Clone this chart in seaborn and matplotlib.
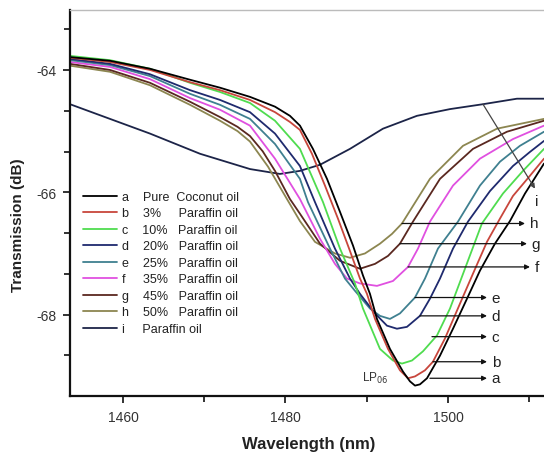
import matplotlib
matplotlib.use("Agg")
import matplotlib.pyplot as plt
import matplotlib.ticker as mticker
import seaborn as sns
import pandas as pd

sns.set_theme(style="ticks")
plt.rcParams["font.family"] = ["Liberation Sans", "DejaVu Sans"]

# ── data (wavelength nm, transmission dB) ───────────────────────────────────
wl_a = [1453.48, 1458.40, 1463.32, 1468.25, 1471.94, 1475.63, 1478.71, 1480.55, 1481.78, 1483.38,
        1485.11, 1486.71, 1488.31, 1489.54, 1490.40, 1491.26, 1492.86, 1494.46, 1495.32, 1495.94,
        1496.55, 1497.42, 1499.02, 1500.62, 1502.34, 1503.94, 1505.78, 1507.63, 1509.48, 1511.82]
t_a = [-63.79, -63.85, -63.98, -64.16, -64.29, -64.44, -64.60, -64.75, -64.91, -65.29,
       -65.78, -66.32, -66.87, -67.36, -67.66, -68.07, -68.56, -68.93, -69.09, -69.16,
       -69.14, -69.04, -68.67, -68.23, -67.74, -67.28, -66.84, -66.47, -66.02, -65.53]

wl_b = [1453.48, 1458.40, 1463.32, 1468.25, 1471.94, 1475.63, 1478.71, 1480.55, 1481.78, 1483.26,
        1484.86, 1486.46, 1487.94, 1489.17, 1490.03, 1491.02, 1492.62, 1494.09, 1495.08, 1495.94,
        1497.17, 1498.15, 1499.63, 1501.48, 1503.08, 1504.80, 1506.40, 1508.00, 1510.09, 1511.82]
t_b = [-63.80, -63.87, -64.00, -64.20, -64.33, -64.49, -64.69, -64.85, -64.98, -65.37,
       -65.89, -66.43, -66.96, -67.41, -67.66, -68.07, -68.56, -68.91, -69.04, -69.01,
       -68.91, -68.77, -68.39, -67.82, -67.33, -66.81, -66.43, -66.06, -65.73, -65.45]

wl_c = [1453.48, 1458.40, 1463.32, 1468.25, 1471.94, 1475.63, 1478.71, 1481.78, 1484.62, 1486.71,
        1488.55, 1489.54, 1491.63, 1493.23, 1494.34, 1495.57, 1496.92, 1498.65, 1500.25, 1502.09,
        1504.18, 1506.77, 1509.23, 1511.82]
t_c = [-63.77, -63.84, -63.98, -64.21, -64.36, -64.54, -64.83, -65.29, -66.16, -66.92,
       -67.49, -67.90, -68.56, -68.75, -68.80, -68.75, -68.60, -68.34, -67.90, -67.25,
       -66.51, -66.02, -65.65, -65.29]

wl_d = [1453.48, 1458.40, 1463.32, 1468.25, 1471.94, 1475.63, 1478.71, 1481.78, 1483.63, 1486.09,
        1487.94, 1489.17, 1491.02, 1492.49, 1493.72, 1494.95, 1496.55, 1497.78, 1499.02, 1500.62,
        1502.46, 1505.17, 1508.00, 1510.09, 1511.82]
t_d = [-63.82, -63.90, -64.07, -64.33, -64.49, -64.69, -65.04, -65.57, -66.16, -66.92,
       -67.41, -67.66, -67.98, -68.18, -68.23, -68.20, -68.02, -67.74, -67.41, -66.92,
       -66.48, -65.98, -65.57, -65.34, -65.16]

wl_e = [1453.48, 1458.40, 1463.32, 1468.25, 1471.94, 1475.63, 1478.71, 1481.78, 1482.77, 1485.48,
        1487.32, 1488.55, 1490.40, 1491.63, 1492.86, 1494.09, 1495.94, 1497.17, 1498.77, 1501.23,
        1503.94, 1506.40, 1508.86, 1511.82]
t_e = [-63.84, -63.92, -64.10, -64.39, -64.57, -64.80, -65.21, -65.78, -66.16, -66.92,
       -67.41, -67.61, -67.90, -68.02, -68.07, -67.98, -67.72, -67.41, -66.92, -66.48,
       -65.89, -65.50, -65.24, -65.01]

wl_f = [1453.48, 1458.40, 1463.32, 1468.25, 1471.94, 1475.63, 1478.71, 1481.78, 1484.25, 1486.09,
        1487.57, 1489.17, 1491.26, 1493.23, 1495.08, 1496.31, 1497.78, 1500.62, 1503.94, 1508.00,
        1511.82]
t_f = [-63.87, -63.95, -64.15, -64.46, -64.65, -64.91, -65.45, -66.11, -66.76, -67.17,
       -67.41, -67.49, -67.53, -67.45, -67.22, -66.92, -66.48, -65.89, -65.45, -65.13,
       -64.91]

wl_g = [1453.48, 1458.40, 1463.32, 1468.25, 1471.94, 1474.10, 1475.63, 1477.20, 1478.71, 1480.55,
        1481.78, 1484.25, 1486.71, 1489.17, 1491.02, 1492.62, 1494.09, 1495.69, 1499.02, 1503.08,
        1507.26, 1511.82]
t_g = [-63.90, -64.00, -64.21, -64.52, -64.77, -64.93, -65.08, -65.33, -65.65, -66.11,
       -66.35, -66.84, -67.12, -67.25, -67.17, -67.04, -66.84, -66.48, -65.78, -65.29,
       -65.01, -64.83]

wl_h = [1453.48, 1458.40, 1463.32, 1468.25, 1471.94, 1474.10, 1475.63, 1477.85, 1480.18, 1481.78,
        1483.63, 1486.09, 1487.94, 1489.78, 1491.63, 1493.11, 1494.34, 1497.78, 1501.85, 1506.03,
        1511.82]
t_h = [-63.93, -64.03, -64.25, -64.57, -64.83, -65.00, -65.17, -65.58, -66.11, -66.47,
       -66.81, -67.00, -67.07, -67.00, -66.84, -66.68, -66.51, -65.78, -65.24, -64.96,
       -64.80]

wl_i = [1453.48, 1458.40, 1463.32, 1469.48, 1475.63, 1479.32, 1481.78, 1484.25, 1487.94, 1492.00,
        1496.18, 1500.25, 1504.31, 1508.49, 1511.82]
t_i = [-64.56, -64.80, -65.04, -65.37, -65.62, -65.70, -65.65, -65.55, -65.29, -64.96,
       -64.75, -64.64, -64.56, -64.47, -64.47]

legend_labels = [
    "a    Pure  Coconut oil",
    "b    3%     Paraffin oil",
    "c    10%   Paraffin oil",
    "d    20%   Paraffin oil",
    "e    25%   Paraffin oil",
    "f     35%   Paraffin oil",
    "g    45%   Paraffin oil",
    "h    50%   Paraffin oil",
    "i     Paraffin oil",
]
colors = ["#000000", "#c8463c", "#4fdc4f", "#1f2a6e", "#3f8090",
          "#e050e0", "#5a2820", "#8c8650", "#1c2448"]
series = [(wl_a, t_a), (wl_b, t_b), (wl_c, t_c), (wl_d, t_d), (wl_e, t_e),
          (wl_f, t_f), (wl_g, t_g), (wl_h, t_h), (wl_i, t_i)]

# arrow labels: curve point -> label on the right
arrow_letters = ["h", "g", "f", "e", "d", "c", "b", "a"]
arrow_x0 = [1494.34, 1494.09, 1495.08, 1495.94, 1496.55, 1498.03, 1498.15, 1497.78]
arrow_y = [-66.51, -66.84, -67.22, -67.72, -68.02, -68.36, -68.77, -69.04]
arrow_x1 = [1509.48, 1509.72, 1510.09, 1504.80, 1504.80, 1504.80, 1504.80, 1504.80]

# ── plot ────────────────────────────────────────────────────────────────────
fig = plt.figure(figsize=(5.44, 4.56), dpi=100)
ax = fig.add_axes([70 / 544, 59 / 456, 474 / 544, 386 / 456])

# draw i..a so the coconut-oil curve ends up on top
for (wl, t), lab, col in list(zip(series, legend_labels, colors))[::-1]:
    df = pd.DataFrame({"wl": wl, "t": t})
    sns.lineplot(data=df, x="wl", y="t", ax=ax, color=col, lw=1.3,
                 estimator=None, sort=False, label=lab)

ax.set_xlim(1453.48, 1511.82)
ax.set_ylim(-69.33, -63.02)
ax.xaxis.set_major_locator(mticker.MultipleLocator(20))
ax.xaxis.set_minor_locator(mticker.MultipleLocator(10))
ax.yaxis.set_major_locator(mticker.MultipleLocator(2))
ax.yaxis.set_minor_locator(mticker.AutoMinorLocator(3))
ax.yaxis.set_major_formatter(mticker.FuncFormatter(lambda v, _: f"{v:.0f}"))

ax.tick_params(which="both", direction="out", color="#222222", width=1.3,
               top=False, right=False, labelsize=10, labelcolor="#333333")
ax.tick_params(which="major", length=5, pad=5)
ax.tick_params(which="minor", length=4)

for side in ["left", "bottom"]:
    ax.spines[side].set_linewidth(1.6)
    ax.spines[side].set_color("#111111")
ax.spines["right"].set_visible(False)
ax.spines["top"].set_color("#bbbbbb")
ax.spines["top"].set_linewidth(1.0)

ax.set_xlabel("Wavelength (nm)", fontsize=12, fontweight="bold", color="#222222")
ax.set_ylabel("Transmission (dB)", fontsize=11, fontweight="bold", color="#222222")
ax.xaxis.set_label_coords((309 - 70) / 474, -(437 - 397) / 386)
ax.yaxis.set_label_coords(-(70 - 25) / 474, (397 - 225) / 386)

handles, labels = ax.get_legend_handles_labels()
leg = ax.legend(handles[::-1], labels[::-1], loc="upper left",
                bbox_to_anchor=(13 / 474, (397 - 192) / 386),
                frameon=False, fontsize=9, handlelength=2.7, handletextpad=0.4,
                labelspacing=0.36, borderpad=0, borderaxespad=0)
for txt in leg.get_texts():
    txt.set_color("#222222")

for let, x0, y, x1 in zip(arrow_letters, arrow_x0, arrow_y, arrow_x1):
    ax.annotate("", xy=(x1, y), xytext=(x0, y),
                arrowprops=dict(arrowstyle="-|>", color="#111111", lw=0.9,
                                mutation_scale=7, shrinkA=0, shrinkB=0))
    ax.text(x1 + 0.6, y, let, fontsize=11, color="#222222", va="center", ha="left")

ax.annotate("", xy=(1510.71, -65.94), xytext=(1504.31, -64.56),
            arrowprops=dict(arrowstyle="-|>", color="#444444", lw=0.9,
                            mutation_scale=7, shrinkA=0, shrinkB=0))
ax.text(1510.95, -66.02, "i", fontsize=11, color="#222222", va="top", ha="center")

ax.text(1489.4, -69.02, "LP$_{06}$", fontsize=8.5, color="#333333", va="center", ha="left")

fig.savefig("out.png", dpi=100)
